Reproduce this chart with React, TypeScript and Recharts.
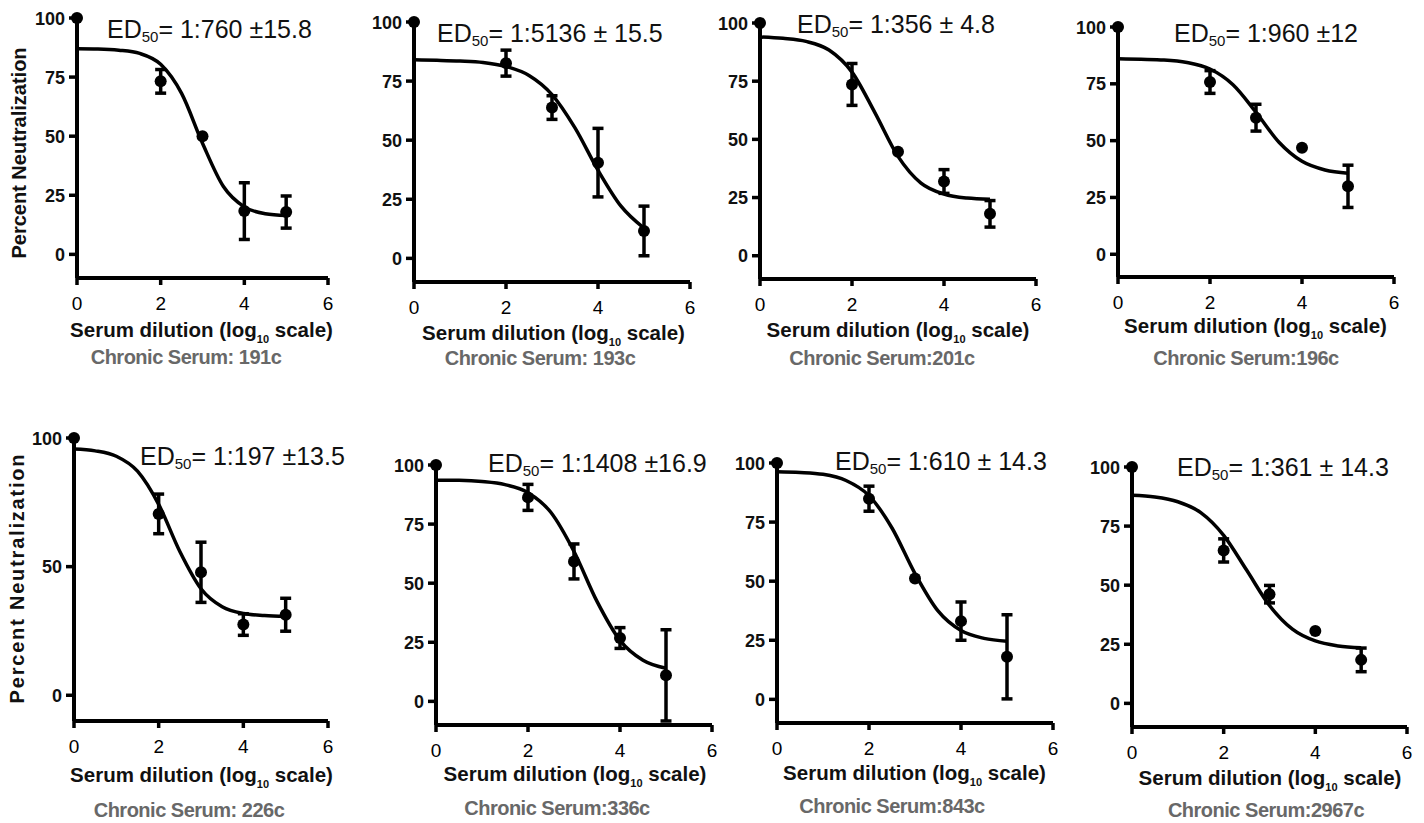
import React from 'react';
import { ComposedChart, Line, Scatter, XAxis, YAxis, ErrorBar } from 'recharts';

const FONT = '"Liberation Sans", Arial, Helvetica, sans-serif';

// ---- data ----
const doseLog10 = [0, 2, 3, 4, 5];
const fitLog10 = [0, 0.5, 1, 1.5, 2, 2.5, 3, 3.5, 4, 4.5, 5];
const xTicks = [0, 2, 4, 6];
const yTicksFull = [0, 25, 50, 75, 100];
const yTicksHalf = [0, 50, 100];

const serum191cMean = [100, 73.2, 50, 18.3, 17.9];
const serum191cErr = [0, 5, 0, 12, 6.8];
const serum191cFit = [87.0, 86.9, 86.4, 85.0, 80.4, 68.1, 47.0, 28.7, 20.1, 17.2, 16.4];

const serum193cMean = [100, 82.6, 63.8, 40.5, 11.6];
const serum193cErr = [0, 5.5, 5, 14.5, 10.5];
const serum193cFit = [84.0, 83.8, 83.5, 82.9, 81.2, 77.4, 69.3, 55.2, 37.3, 22.1, 12.8];

const serum201cMean = [100, 73.6, 44.7, 31.9, 18];
const serum201cErr = [0, 9, 0, 5.1, 5.7];
const serum201cFit = [94.0, 93.4, 92.1, 88.4, 78.9, 61.4, 42.7, 31.2, 26.5, 24.8, 24.3];

const serum196cMean = [100, 75.8, 60.1, 46.9, 29.9];
const serum196cErr = [0, 5, 5.9, 0, 9.3];
const serum196cFit = [86.0, 85.8, 85.5, 84.4, 81.5, 74.6, 62.5, 49.3, 40.9, 37.1, 35.7];

const serum226cMean = [100, 70.5, 47.8, 27.5, 31.3];
const serum226cErr = [0, 7.7, 11.7, 4.2, 6.4];
const serum226cFit = [95.7, 95.0, 92.9, 87.1, 74.2, 55.9, 41.4, 34.4, 31.8, 31.0, 30.6];

const serum336cMean = [100, 86.3, 59.2, 26.8, 11];
const serum336cErr = [0, 5.5, 7.4, 4.4, 19.3];
const serum336cFit = [93.6, 93.5, 93.0, 91.7, 88.3, 79.9, 63.4, 42.3, 25.8, 17.4, 14.0];

const serum843cMean = [100, 84.9, 51.1, 33.1, 18];
const serum843cErr = [0, 5.3, 0, 8.1, 17.8];
const serum843cFit = [96.3, 96.0, 95.2, 92.6, 86.2, 72.5, 53.2, 37.4, 29.1, 25.8, 24.6];

const serum2967cMean = [100, 64.7, 46.2, 30.6, 18.4];
const serum2967cErr = [0, 4.9, 3.7, 0, 5];
const serum2967cFit = [88.0, 87.3, 85.3, 80.7, 71.1, 56.4, 41.4, 31.4, 26.4, 24.3, 23.5];

const captions = [
  'Chronic Serum: 191c', 'Chronic Serum: 193c', 'Chronic Serum:201c', 'Chronic Serum:196c',
  'Chronic Serum: 226c', 'Chronic Serum:336c', 'Chronic Serum:843c', 'Chronic Serum:2967c',
];
const ed50Labels = [
  '= 1:760 ±15.8', '= 1:5136 ± 15.5', '= 1:356 ± 4.8', '= 1:960 ±12',
  '= 1:197 ±13.5', '= 1:1408 ±16.9', '= 1:610 ± 14.3', '= 1:361 ± 14.3',
];
const means = [serum191cMean, serum193cMean, serum201cMean, serum196cMean, serum226cMean, serum336cMean, serum843cMean, serum2967cMean];
const errs = [serum191cErr, serum193cErr, serum201cErr, serum196cErr, serum226cErr, serum336cErr, serum843cErr, serum2967cErr];
const fits = [serum191cFit, serum193cFit, serum201cFit, serum196cFit, serum226cFit, serum336cFit, serum843cFit, serum2967cFit];
const yTickSets = [yTicksFull, yTicksFull, yTicksFull, yTicksFull, yTicksHalf, yTicksFull, yTicksFull, yTicksFull];

// ---- layout (plot boxes and text anchors, page px) ----
const plotBoxes = [
  { x: 77, y: 18, w: 251, h: 260 },
  { x: 414, y: 22, w: 276, h: 260 },
  { x: 760, y: 23, w: 276, h: 256 },
  { x: 1118, y: 27, w: 276, h: 250 },
  { x: 74, y: 438, w: 254, h: 283 },
  { x: 436, y: 465, w: 276, h: 260 },
  { x: 777, y: 463, w: 276, h: 260 },
  { x: 1132, y: 467, w: 275, h: 260 },
];
const ed50Pos = [[107, 38], [437, 42], [797, 33], [1174, 42], [140, 465], [488, 472], [835, 470], [1177, 476]];
const xLabelPos = [[201.5, 337], [553.5, 340], [898, 337], [1255.5, 333], [201.5, 782], [575, 781], [914.5, 780], [1270, 785]];
const captionPos = [[186, 364], [540, 365], [882, 365], [1246, 365], [189, 817], [557, 815], [892, 813], [1266, 817]];

const ML = 70;
const MT = 14;
const MR = 14;
const MB = 50;

const Dot = (p: any) => <circle cx={p.cx} cy={p.cy} r={6} fill="#000" />;

const XTick = (p: any) => (
  <text x={p.x} y={p.y} dy={14} textAnchor="middle" fontSize={19} fontFamily={FONT} fill="#000">
    {p.payload.value}
  </text>
);

const YTick = (p: any) => (
  <text x={p.x} y={p.y} dy={6.5} textAnchor="end" fontSize={18} fontWeight={700} fontFamily={FONT} fill="#111">
    {p.payload.value}
  </text>
);

function Panel({ i }: { i: number }) {
  const box = plotBoxes[i];
  const pts = doseLog10.map((x, k) => ({ x, y: means[i][k], err: errs[i][k] }));
  const fit = fitLog10.map((x, k) => ({ x, fit: fits[i][k] }));
  return (
    <div style={{ position: 'absolute', left: box.x - ML, top: box.y - MT }}>
      <ComposedChart
        width={box.w + ML + MR}
        height={box.h + MT + MB}
        margin={{ top: MT, right: MR, bottom: 0, left: 0 }}
      >
        <XAxis
          type="number"
          dataKey="x"
          domain={[0, 6]}
          ticks={xTicks}
          interval={0}
          height={MB}
          axisLine={{ stroke: '#000', strokeWidth: 4 }}
          tickLine={{ stroke: '#000', strokeWidth: 3.5 }}
          tickSize={7}
          tickMargin={11}
          tick={XTick}
        />
        <YAxis
          type="number"
          domain={[-10, 100]}
          ticks={yTickSets[i]}
          interval={0}
          width={ML}
          axisLine={{ stroke: '#000', strokeWidth: 4 }}
          tickLine={{ stroke: '#000', strokeWidth: 3.5 }}
          tickSize={8}
          tickMargin={4}
          tick={YTick}
        />
        <Line
          data={fit}
          dataKey="fit"
          type="monotone"
          stroke="#000"
          strokeWidth={3.5}
          dot={false}
          isAnimationActive={false}
        />
        <Scatter data={pts} dataKey="y" fill="#000" shape={Dot} isAnimationActive={false}>
          <ErrorBar dataKey="err" direction="y" width={5.5} stroke="#000" strokeWidth={3.5} isAnimationActive={false} />
        </Scatter>
      </ComposedChart>
    </div>
  );
}

export default function App() {
  return (
    <div
      style={{
        position: 'absolute',
        left: 0,
        top: 0,
        width: 1424,
        height: 823,
        background: '#fff',
        overflow: 'hidden',
        fontFamily: FONT,
      }}
    >
      {plotBoxes.map((_, i) => (
        <Panel key={i} i={i} />
      ))}
      <svg
        width={1424}
        height={823}
        style={{ position: 'absolute', left: 0, top: 0, pointerEvents: 'none' }}
        fontFamily={FONT}
      >
        <text
          transform="translate(26,153) rotate(-90)"
          textAnchor="middle"
          fontSize={20}
          fontWeight={700}
          fill="#111"
        >
          Percent Neutralization
        </text>
        <text
          transform="translate(24,578) rotate(-90)"
          textAnchor="middle"
          fontSize={20}
          fontWeight={700}
          letterSpacing={1.8}
          fill="#111"
        >
          Percent Neutralization
        </text>
        {ed50Pos.map(([x, y], i) => (
          <text key={'e' + i} x={x} y={y} fontSize={25} fill="#111">
            ED
            <tspan fontSize={15} dy={4}>50</tspan>
            <tspan dy={-4}>{ed50Labels[i]}</tspan>
          </text>
        ))}
        {xLabelPos.map(([x, y], i) => (
          <text key={'x' + i} x={x} y={y} textAnchor="middle" fontSize={20.5} fontWeight={700} fill="#111">
            Serum dilution (log
            <tspan fontSize={11} dy={6}>10</tspan>
            <tspan dy={-6}> scale)</tspan>
          </text>
        ))}
        {captionPos.map(([x, y], i) => (
          <text
            key={'c' + i}
            x={x}
            y={y}
            textAnchor="middle"
            fontSize={20}
            fontWeight={700}
            letterSpacing={-0.5}
            fill="#686868"
          >
            {captions[i]}
          </text>
        ))}
      </svg>
    </div>
  );
}
